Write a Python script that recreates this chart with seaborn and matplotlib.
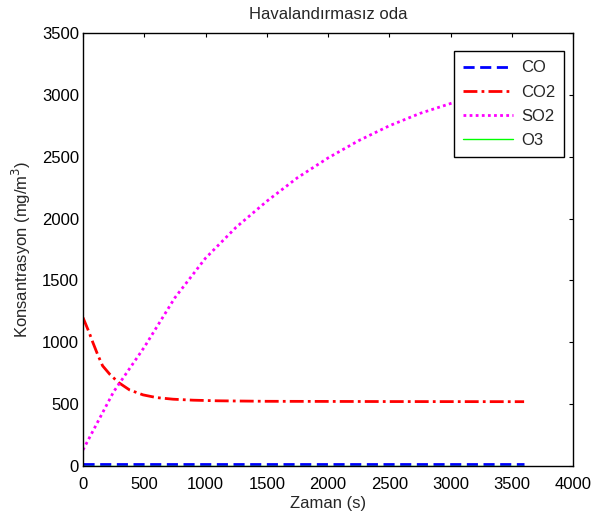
import numpy as np
import pandas as pd
import matplotlib
matplotlib.use("Agg")
import matplotlib.pyplot as plt
import seaborn as sns

# Values
t_so2 = [0, 250, 500, 750, 1000, 1250, 1500, 1750, 2000, 2250, 2500, 2750, 3000, 3250, 3500, 3600]
so2 = [130, 600, 960, 1360, 1680, 1930, 2140, 2330, 2490, 2630, 2750, 2850, 2930, 3000, 3050, 3070]

t_co2 = [0, 25, 50, 80, 120, 160, 220, 290, 380, 490, 600, 735, 900, 1100, 1500, 2500, 3600]
co2 = [1200, 1140, 1080, 1000, 900, 810, 740, 675, 615, 575, 553, 540, 532, 527, 523, 521, 520]

t_flat = [0, 3600]
co = [20, 20]
o3 = [0, 0]

sns.set_style("white")
plt.rcParams["font.family"] = ["Liberation Sans", "DejaVu Sans"]
fs = 12
plt.rcParams["font.size"] = fs

fig = plt.figure(figsize=(5.97, 5.13), dpi=100)
ax = fig.add_axes([0.139, 0.0916, 0.821, 0.8441])

sns.lineplot(x=t_flat, y=co, ax=ax, color=(0, 0, 1), lw=2, linestyle=(0, (4, 2)), label="CO")
sns.lineplot(x=t_co2, y=co2, ax=ax, color=(1, 0, 0), lw=2, linestyle=(0, (5, 1.5, 1, 1.5)), label="CO2")
sns.lineplot(x=t_so2, y=so2, ax=ax, color=(1, 0, 1), lw=2, linestyle=(0, (1, 1.2)), label="SO2")
sns.lineplot(x=t_flat, y=o3, ax=ax, color=(0, 1, 0), lw=1, label="O3")

ax.set_xlim(0, 4000)
ax.set_ylim(0, 3500)
ax.set_xticks(np.arange(0, 4001, 500))
ax.set_yticks(np.arange(0, 3501, 500))
ax.tick_params(direction="in", top=True, right=True, length=3, width=0.8, colors="black",
               labelsize=fs)
ax.tick_params(axis="x", pad=8)
ax.tick_params(axis="y", pad=3)
for s in ax.spines.values():
    s.set_color("black")
    s.set_linewidth(1)

ax.set_title("Havalandırmasız oda", fontsize=fs, pad=10)
ax.set_xlabel("Zaman (s)", fontsize=fs, labelpad=3)
ax.set_ylabel("Konsantrasyon (mg/m$^3$)", fontsize=fs, labelpad=6.5)

leg = ax.legend(loc="upper right", bbox_to_anchor=(0.982, 0.958), borderaxespad=0, fancybox=False,
                shadow=False, framealpha=1, edgecolor="black", handlelength=3.0,
                borderpad=0.55, labelspacing=0.55, handletextpad=0.45, fontsize=fs)
leg.get_frame().set_linewidth(1)

fig.savefig("out.png", dpi=100)
